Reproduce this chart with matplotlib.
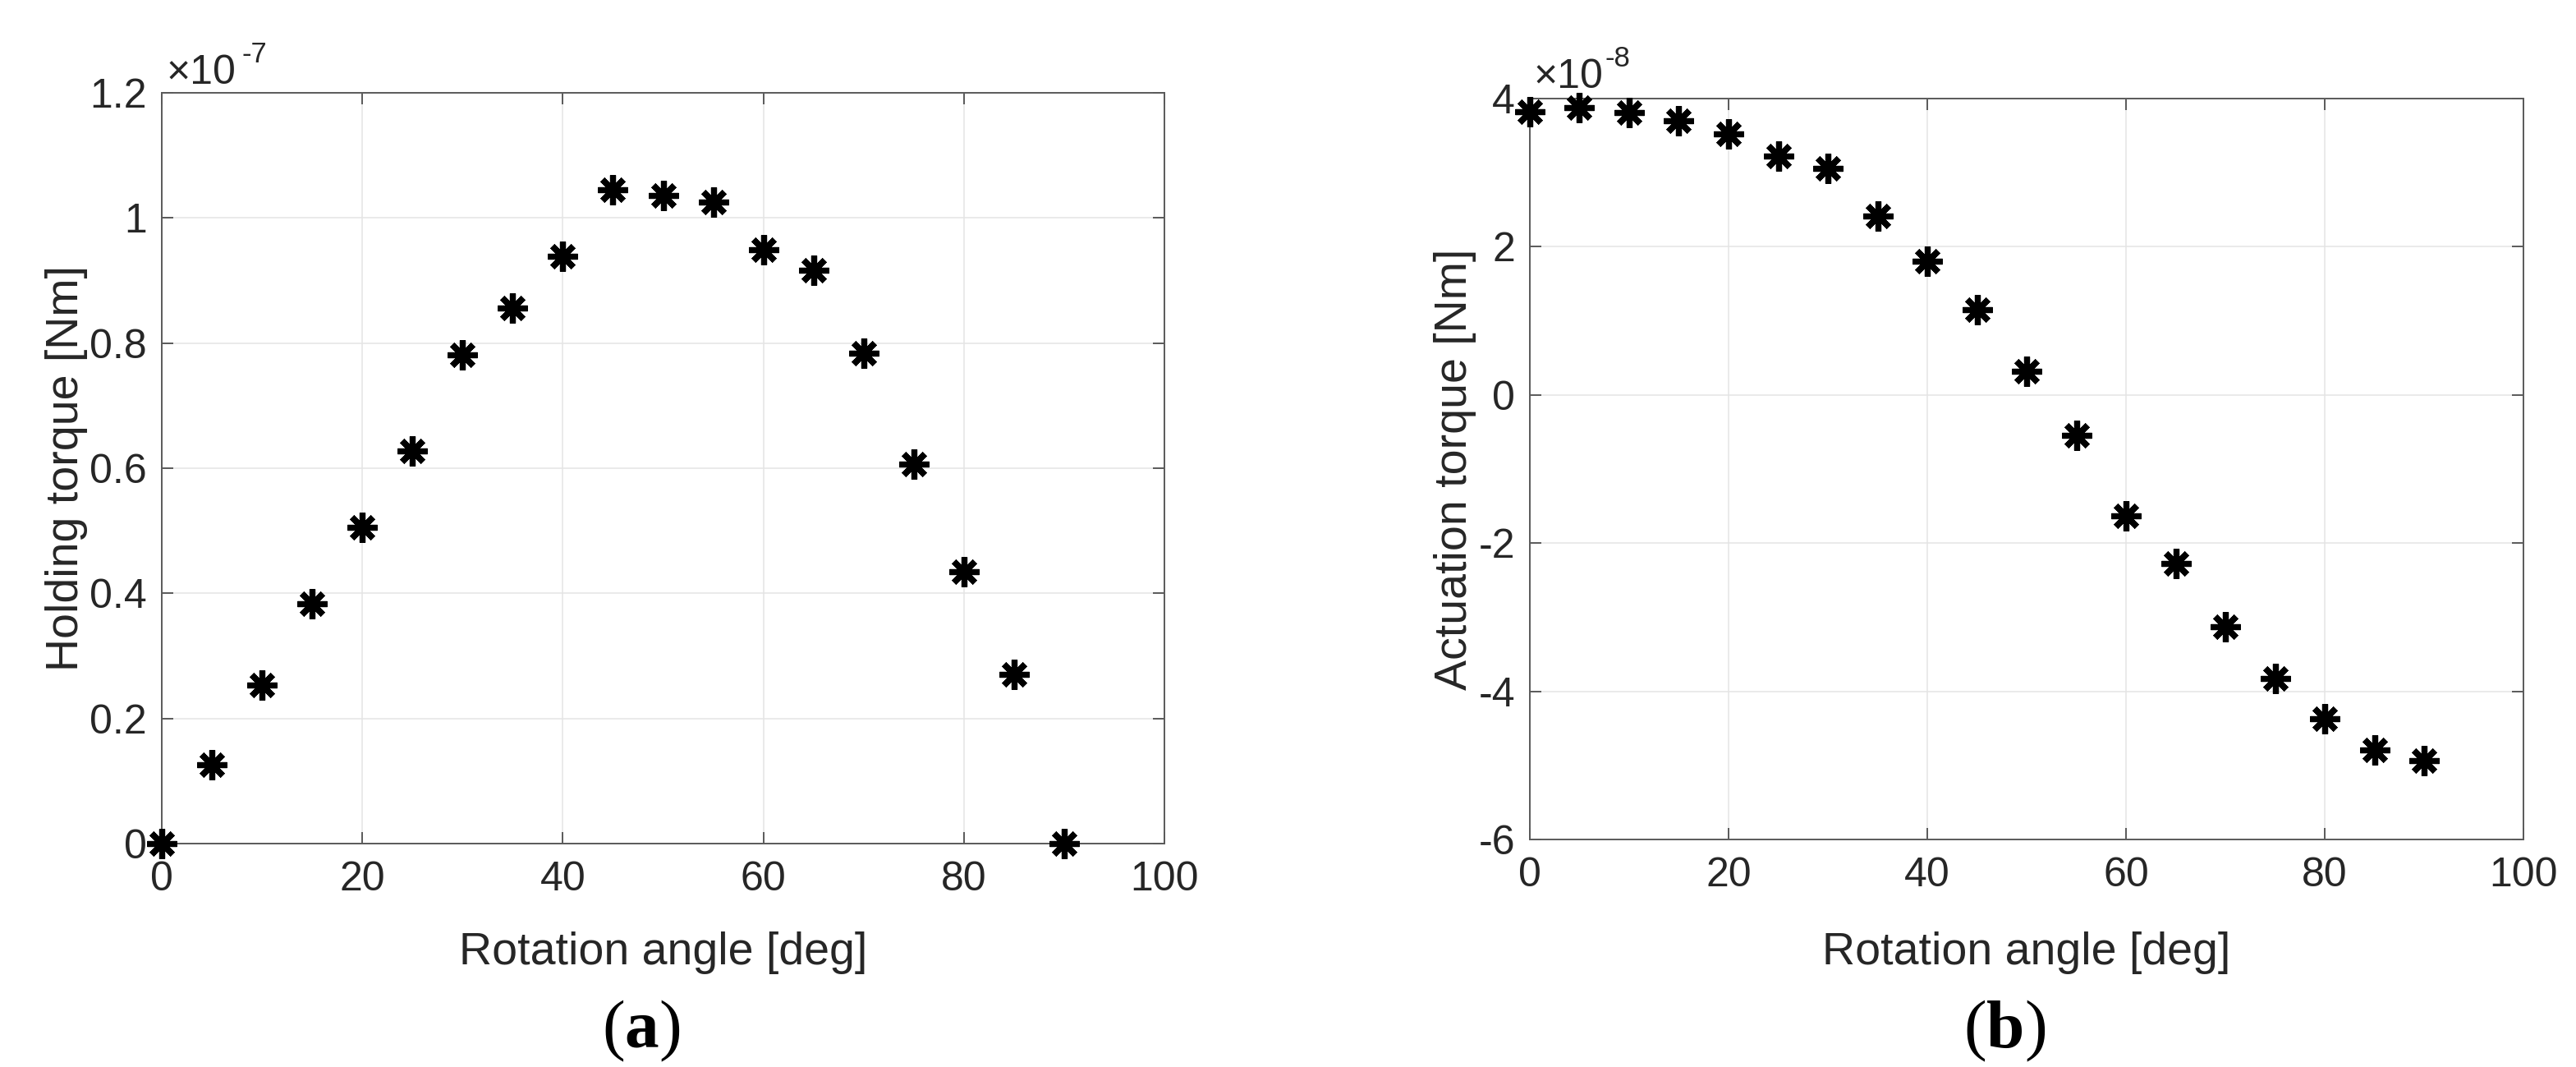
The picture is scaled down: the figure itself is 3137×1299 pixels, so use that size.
import matplotlib
matplotlib.use("Agg")
import matplotlib.pyplot as plt
from matplotlib.ticker import FuncFormatter

# ---- data ----
angle_deg = [0, 5, 10, 15, 20, 25, 30, 35, 40, 45, 50, 55, 60, 65, 70, 75, 80, 85, 90]
holding_torque_e7 = [0.0, 0.126, 0.254, 0.383, 0.506, 0.627, 0.781, 0.856, 0.939, 1.045,
                     1.036, 1.026, 0.949, 0.917, 0.784, 0.607, 0.435, 0.270, 0.0]
actuation_torque_e8 = [3.82, 3.88, 3.81, 3.70, 3.52, 3.22, 3.06, 2.41, 1.81, 1.156,
                       0.314, -0.543, -1.63, -2.27, -3.13, -3.83, -4.37, -4.79, -4.94]
x_ticks = [0, 20, 40, 60, 80, 100]
left_y_ticks = [0, 0.2, 0.4, 0.6, 0.8, 1.0, 1.2]
right_y_ticks = [-6, -4, -2, 0, 2, 4]
x_label = "Rotation angle [deg]"
left_y_label = "Holding torque [Nm]"
right_y_label = "Actuation torque [Nm]"
left_exp = "-7"
right_exp = "-8"
panel_letters = ["a", "b"]

W, H = 3137, 1299
DPI = 100
plt.rcParams['font.family'] = ['Liberation Sans', 'DejaVu Sans']
plt.rcParams['mathtext.fontset'] = 'custom'
plt.rcParams['mathtext.rm'] = 'Liberation Serif'
plt.rcParams['mathtext.bf'] = 'Liberation Serif:bold'

TXT = '#262626'
SP = '#5a5a5a'

fig = plt.figure(figsize=(W / DPI, H / DPI), dpi=DPI)
fig.patch.set_facecolor('white')


def rect(x0, y0, x1, y1):
    return [x0 / W, 1 - y1 / H, (x1 - x0) / W, (y1 - y0) / H]


def px(x, y):
    return x / W, 1 - y / H


fmt = FuncFormatter(lambda v, p: ('%g' % round(v, 6)))

specs = [
    dict(r=rect(197, 113, 1418, 1027), y=holding_torque_e7, yt=left_y_ticks, yl=(0, 1.2),
         lab=left_y_label, ylab_x=-0.074, xlab_y=-0.117, exp=left_exp,
         mult=(203, 102), sup=(294, 76), letter=(781, 1255), L=panel_letters[0]),
    dict(r=rect(1863, 120, 3073, 1022), y=actuation_torque_e8, yt=right_y_ticks, yl=(-6, 4),
         lab=right_y_label, ylab_x=-0.054, xlab_y=-0.124, exp=right_exp,
         mult=(1868, 107), sup=(1955, 81), letter=(2441, 1255), L=panel_letters[1]),
]

for s in specs:
    ax = fig.add_axes(s['r'])
    ax.plot(angle_deg, s['y'], linestyle='none', marker=(8, 2, 0), markersize=26,
            markeredgewidth=5.2, color='black', clip_on=False, zorder=5)
    ax.set_xlim(0, 100)
    ax.set_ylim(*s['yl'])
    ax.set_xticks(x_ticks)
    ax.set_yticks(s['yt'])
    ax.xaxis.set_major_formatter(fmt)
    ax.yaxis.set_major_formatter(fmt)
    ax.grid(True, color='#e4e4e4', linewidth=1.1)
    ax.set_axisbelow(True)
    for sp in ax.spines.values():
        sp.set_color(SP)
        sp.set_linewidth(1.4)
    ax.tick_params(axis='both', which='both', direction='in', length=10, width=1.4,
                   color=SP, labelcolor=TXT, labelsize=36, top=True, right=True)
    ax.tick_params(axis='x', pad=15)
    ax.tick_params(axis='y', pad=13)
    ax.set_xlabel(x_label, fontsize=40, color=TXT)
    ax.set_ylabel(s['lab'], fontsize=40, color=TXT)
    ax.xaxis.set_label_coords(0.5, s['xlab_y'])
    ax.yaxis.set_label_coords(s['ylab_x'], 0.5)
    # exponent multiplier
    mx, my = px(*s['mult'])
    fig.text(mx, my, '\u00d710', fontsize=36, color=TXT, ha='left', va='baseline')
    sx, sy = px(*s['sup'])
    fig.text(sx, sy, s['exp'], fontsize=25, color=TXT, ha='left', va='baseline')
    # panel letter
    lx, ly = px(*s['letter'])
    fig.text(lx, ly, r'$\mathrm{(}\mathbf{%s}\mathrm{)}$' % s['L'], fontsize=60,
             color='black', ha='center', va='center')

fig.savefig('out.png', dpi=DPI, facecolor='white')
